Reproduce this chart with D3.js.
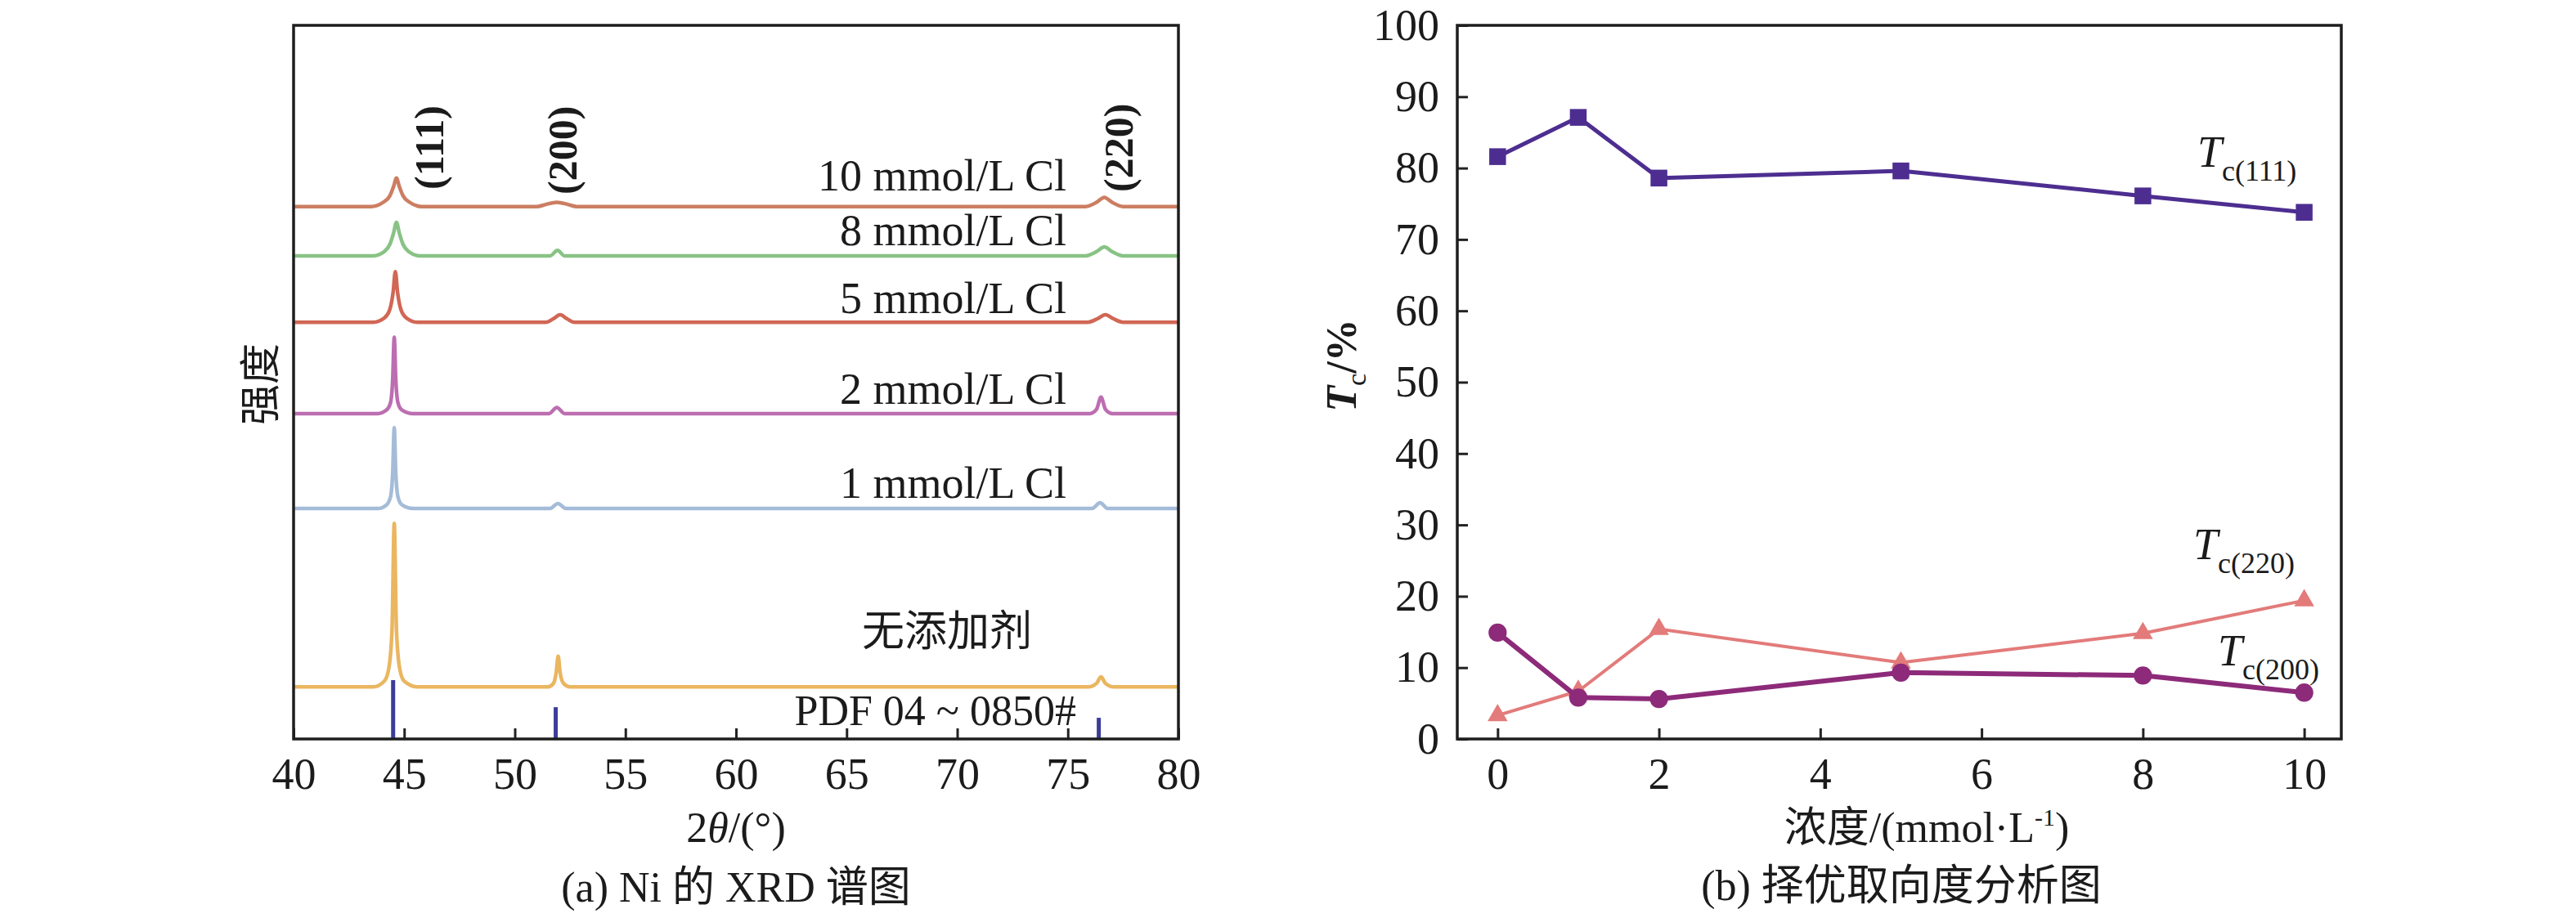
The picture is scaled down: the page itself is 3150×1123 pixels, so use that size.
<!DOCTYPE html>
<html>
<head>
<meta charset="utf-8">
<script src="https://cdn.jsdelivr.net/npm/d3@7"></script>
<style>
	body { margin: 0; background: #fff; }
	svg text { font-family: "Liberation Serif", "Noto Sans CJK SC", serif; fill: #1b1b1b; }
</style>
</head>
<body>
<svg id="chart" width="3150" height="1123"></svg>
<script>
/* (a) XRD patterns: 2theta ticks, trace names, vertical offsets (a.u.) */
var twoThetaTicks = [40, 45, 50, 55, 60, 65, 70, 75, 80];
var xrdNames = ['无添加剂', '1 mmol/L Cl', '2 mmol/L Cl', '5 mmol/L Cl', '8 mmol/L Cl', '10 mmol/L Cl'];
var xrdColors = ['#e9b257', '#9fb8d6', '#b866ad', '#cf5f4c', '#82c07e', '#c9775a'];
var xrdOffsets = [7.3, 32.3, 45.6, 58.4, 67.7, 74.6];

/* [2theta, intensity above own baseline] */
var xrdNone = [[40, 0], [43.6, 0], [44.1, 0.8], [44.3, 2.5], [44.45, 8], [44.55, 22.9], [44.65, 8], [44.8, 2.5], [45.0, 0.8], [45.6, 0],
	[51.5, 0], [51.75, 0.5], [51.87, 2], [51.96, 4.3], [52.05, 2], [52.2, 0.5], [52.5, 0],
	[75.9, 0], [76.3, 0.5], [76.5, 1.4], [76.7, 0.5], [77.1, 0], [80, 0]];
var xrd1 = [[40, 0], [43.8, 0], [44.2, 0.5], [44.38, 1.6], [44.48, 5], [44.55, 11.3], [44.62, 5], [44.72, 1.6], [44.9, 0.5], [45.4, 0],
	[51.6, 0], [51.95, 0.7], [52.3, 0],
	[76.1, 0], [76.46, 0.8], [76.8, 0], [80, 0]];
var xrd2 = [[40, 0], [43.8, 0], [44.2, 0.5], [44.38, 1.5], [44.48, 4.8], [44.55, 10.7], [44.62, 4.8], [44.72, 1.5], [44.9, 0.5], [45.4, 0],
	[51.55, 0], [51.9, 0.86], [52.25, 0],
	[76.0, 0], [76.3, 0.6], [76.5, 2.3], [76.7, 0.6], [77.0, 0], [80, 0]];
var xrd5 = [[40, 0], [43.6, 0], [44.1, 0.6], [44.35, 1.8], [44.5, 4.2], [44.6, 7.1], [44.7, 4.2], [44.85, 1.8], [45.1, 0.6], [45.6, 0],
	[51.4, 0], [51.75, 0.5], [52.05, 1.05], [52.35, 0.5], [52.7, 0],
	[75.9, 0], [76.35, 0.5], [76.7, 1.05], [77.05, 0.5], [77.5, 0], [80, 0]];
var xrd8 = [[40, 0], [43.6, 0], [44.1, 0.6], [44.35, 1.6], [44.52, 3.2], [44.65, 4.7], [44.78, 3.2], [44.95, 1.6], [45.2, 0.6], [45.7, 0],
	[51.6, 0], [51.93, 0.77], [52.25, 0],
	[75.8, 0], [76.3, 0.6], [76.65, 1.25], [77.0, 0.6], [77.5, 0], [80, 0]];
var xrd10 = [[40, 0], [43.5, 0], [44.05, 0.6], [44.35, 1.5], [44.52, 2.8], [44.65, 4.0], [44.78, 2.8], [44.95, 1.5], [45.25, 0.6], [45.8, 0],
	[51.0, 0], [51.4, 0.3], [51.9, 0.6], [52.4, 0.3], [52.8, 0],
	[75.8, 0], [76.3, 0.6], [76.65, 1.3], [77.0, 0.6], [77.5, 0], [80, 0]];
var xrdTraces = [xrdNone, xrd1, xrd2, xrd5, xrd8, xrd10];

/* PDF 04-0850 reference lines and hkl */
var pdfSticks = [[44.5, 100], [51.85, 54], [76.4, 36]];
var hklNames = ['(111)', '(200)', '(220)'];
var hklPeaks = [44.5, 51.85, 76.4];

/* (b) texture coefficient vs concentration */
var concTicks = [0, 2, 4, 6, 8, 10];
var tcTicks = [0, 10, 20, 30, 40, 50, 60, 70, 80, 90, 100];
var concentration = [0, 1, 2, 5, 8, 10];
var tc111 = [81.6, 87.1, 78.6, 79.6, 76.1, 73.8];
var tc200 = [14.9, 5.8, 5.6, 9.3, 8.9, 6.5];
var tc220 = [3.3, 6.7, 15.4, 10.7, 14.8, 19.4];

var svg = d3.select('#chart');

/* ---------- panel (a) ---------- */
var xA = d3.scaleLinear().domain([40, 80]).range([359, 1441]),
	yA = d3.scaleLinear().domain([0, 100]).range([904, 31]),
	yStick = d3.scaleLinear().domain([0, 100]).range([904, 832]);

var axA = svg.append('g')
	.attr('transform', 'translate(0,904)')
	.call(d3.axisBottom(xA).tickValues(twoThetaTicks).tickSizeInner(-13).tickSizeOuter(0).tickPadding(23));
axA.select('.domain').remove();
axA.selectAll('line').attr('stroke', '#222').attr('stroke-width', 3);
axA.selectAll('text').style('font-size', '54px');

xrdTraces.forEach(function (pts, i) {
	var line = d3.line()
		.x(function (d) { return xA(d[0]); })
		.y(function (d) { return yA(xrdOffsets[i] + d[1]); })
		.curve(d3.curveMonotoneX);

	svg.append('path')
		.datum(pts)
		.attr('d', line)
		.attr('fill', 'none')
		.attr('stroke', xrdColors[i])
		.attr('stroke-width', 4.5)
		.attr('stroke-linejoin', 'round')
		.attr('opacity', 0.95);
});

svg.selectAll('.stick')
	.data(pdfSticks)
	.enter().append('line')
	.classed('stick', true)
	.attr('x1', function (d) { return xA(d[0]); })
	.attr('x2', function (d) { return xA(d[0]); })
	.attr('y1', yStick(0))
	.attr('y2', function (d) { return yStick(d[1]); })
	.attr('stroke', '#3b3c9a')
	.attr('stroke-width', 5);

// trace names, right aligned
var nameBaselines = [790, 609, 494, 383, 300, 233];
xrdNames.forEach(function (name, i) {
	svg.append('text')
		.text(name)
		.attr('x', i === 0 ? 1262 : 1304)
		.attr('y', nameBaselines[i])
		.attr('text-anchor', 'end')
		.style('font-size', i === 0 ? '52px' : '54px');
});

svg.append('text')
	.text('PDF 04 ~ 0850#')
	.attr('x', 1316)
	.attr('y', 887)
	.attr('text-anchor', 'end')
	.style('font-size', '52px');

// hkl labels, rotated
var hklShift = [1.6, 0.3, 0.9],
	hklBottom = [232, 238, 235];
hklNames.forEach(function (h, i) {
	var x = xA(hklPeaks[i] + hklShift[i]);
	svg.append('text')
		.text(h)
		.attr('transform', 'translate(' + [x, hklBottom[i]] + ') rotate(-90)')
		.attr('dy', '0.35em')
		.style('font-size', '50px')
		.style('font-weight', 'bold');
});

svg.append('text')
	.text('强度')
	.attr('transform', 'translate(318,470) rotate(-90)')
	.attr('text-anchor', 'middle')
	.attr('dy', '0.35em')
	.style('font-size', '50px');

var xlabA = svg.append('text')
	.attr('x', 900)
	.attr('y', 1030)
	.attr('text-anchor', 'middle')
	.style('font-size', '52px');
xlabA.append('tspan').text('2');
xlabA.append('tspan').text('θ').style('font-style', 'italic');
xlabA.append('tspan').text('/(°)');

svg.append('text')
	.text('(a) Ni 的 XRD 谱图')
	.attr('x', 900)
	.attr('y', 1103)
	.attr('text-anchor', 'middle')
	.style('font-size', '52px');

svg.append('rect')
	.attr('x', 359).attr('y', 31)
	.attr('width', 1441 - 359).attr('height', 904 - 31)
	.attr('fill', 'none')
	.attr('stroke', '#1e1e1e')
	.attr('stroke-width', 3.5);

/* ---------- panel (b) ---------- */
var xB = d3.scaleLinear().domain([-0.5, 10.46]).range([1782, 2863]),
	yB = d3.scaleLinear().domain([0, 100]).range([904, 31]);

var axBx = svg.append('g')
	.attr('transform', 'translate(0,904)')
	.call(d3.axisBottom(xB).tickValues(concTicks).tickSizeInner(-13).tickSizeOuter(0).tickPadding(23));
var axBy = svg.append('g')
	.attr('transform', 'translate(1782,0)')
	.call(d3.axisLeft(yB).tickValues(tcTicks).tickSizeInner(-13).tickSizeOuter(0).tickPadding(22));
[axBx, axBy].forEach(function (ax) {
	ax.select('.domain').remove();
	ax.selectAll('line').attr('stroke', '#222').attr('stroke-width', 3);
	ax.selectAll('text').style('font-size', '54px');
});

var series = [
	{ values: tc220, color: '#e27b7a', width: 4, symbol: d3.symbolTriangle, size: 260 },
	{ values: tc200, color: '#8d2a79', width: 6, symbol: d3.symbolCircle, size: 390 },
	{ values: tc111, color: '#4d2e90', width: 5, symbol: d3.symbolSquare, size: 420 }
];

series.forEach(function (s) {
	var line = d3.line()
		.x(function (d, i) { return xB(concentration[i]); })
		.y(function (d) { return yB(d); });

	svg.append('path')
		.datum(s.values)
		.attr('d', line)
		.attr('fill', 'none')
		.attr('stroke', s.color)
		.attr('stroke-width', s.width)
		.attr('stroke-linejoin', 'round');

	svg.append('g').selectAll('path')
		.data(s.values)
		.enter().append('path')
		.attr('d', d3.symbol(s.symbol, s.size))
		.attr('transform', function (d, i) {
			return 'translate(' + [xB(concentration[i]), yB(d)] + ')';
		})
		.attr('fill', s.color);
});

// series labels T_c(hkl)
var tcLabels = [
	{ sub: 'c(111)', x: 2687, y: 204 },
	{ sub: 'c(220)', x: 2682, y: 684 },
	{ sub: 'c(200)', x: 2712, y: 814 }
];
tcLabels.forEach(function (l) {
	var t = svg.append('text')
		.attr('x', l.x)
		.attr('y', l.y)
		.style('font-size', '54px');
	t.append('tspan').text('T').style('font-style', 'italic');
	t.append('tspan').text(l.sub).attr('dy', 17).style('font-size', '36px');
});

var ylabB = svg.append('text')
	.attr('transform', 'translate(1640,447) rotate(-90)')
	.attr('text-anchor', 'middle')
	.attr('dy', '0.35em')
	.style('font-size', '52px')
	.style('font-weight', 'bold');
ylabB.append('tspan').text('T').style('font-style', 'italic');
ylabB.append('tspan').text('c').attr('dy', 12).style('font-size', '34px').style('font-weight', 'normal');
ylabB.append('tspan').text('/%').attr('dy', -12);

var xlabB = svg.append('text')
	.attr('x', 2356)
	.attr('y', 1030)
	.attr('text-anchor', 'middle')
	.style('font-size', '52px');
xlabB.append('tspan').text('浓度/(mmol·L');
xlabB.append('tspan').text('-1').attr('dy', -20).style('font-size', '30px');
xlabB.append('tspan').text(')').attr('dy', 20);

svg.append('text')
	.text('(b) 择优取向度分析图')
	.attr('x', 2325)
	.attr('y', 1101)
	.attr('text-anchor', 'middle')
	.style('font-size', '52px');

svg.append('rect')
	.attr('x', 1782).attr('y', 31)
	.attr('width', 2863 - 1782).attr('height', 904 - 31)
	.attr('fill', 'none')
	.attr('stroke', '#1e1e1e')
	.attr('stroke-width', 3.5);
</script>
</body>
</html>
